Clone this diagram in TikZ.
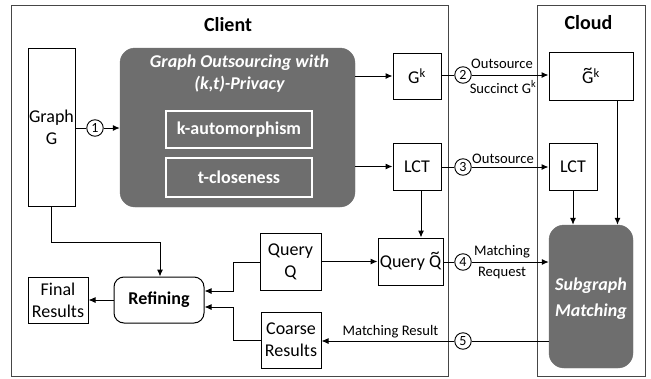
\documentclass[tikz,border=0pt]{standalone}
\usepackage{fontspec}
\setmainfont{Carlito}
\usetikzlibrary{arrows.meta,calc}
\definecolor{boxgray}{RGB}{110,110,110}
\definecolor{framegray}{RGB}{70,70,70}
\newcommand{\tildeon}[1]{\setbox0\hbox{#1}\rlap{\hbox to\wd0{\hfil\raisebox{0.48em}{\char"7E}\hfil}}\box0}
\begin{document}
\begin{tikzpicture}[x=1pt,y=-1pt,
  frame/.style={draw=framegray, line width=0.9pt, inner sep=0pt},
  box/.style={draw, line width=1pt, inner sep=0pt, align=center, fill=white, font=\fontsize{18}{22}\selectfont},
  graybox/.style={fill=boxgray, draw=boxgray, rounded corners=15pt, inner sep=0pt},
  innerbox/.style={draw=white, line width=1.3pt, inner sep=0pt, text=white, font=\fontsize{18}{22}\selectfont\bfseries},
  num/.style={circle, draw, line width=0.9pt, fill=white, minimum size=16.5pt, inner sep=0pt, font=\fontsize{14}{14}\selectfont},
  lbl/.style={inner sep=0pt, align=center, font=\fontsize{14.6}{22}\selectfont},
  title/.style={inner sep=0pt, font=\fontsize{20}{24}\selectfont\bfseries},
  ln/.style={line width=1pt},
  arr/.style={line width=1pt, -{Latex[length=7pt,width=6pt]}}]
\useasboundingbox (0,0) rectangle (651,378);
% frames
\node[frame, minimum width=437, minimum height=371] (client) at (229.5,190.5) {};
\node[frame, minimum width=108, minimum height=371] (cloud) at (591,190.5) {};
\node[title] (tclient) at (228,25) {Client};
\node[title] (tcloud) at (588.5,23) {Cloud};
% client boxes
\node[box, minimum width=47, minimum height=158] (G) at (51.5,127) {Graph\\G};
\node[graybox, minimum width=235, minimum height=159] (gray) at (237.5,127.5) {};
\node[inner sep=0pt, align=center, text=white, font=\fontsize{18}{22}\selectfont\bfseries\itshape] (gtitle) at (239.5,74) {Graph Outsourcing with\\(k,t)-Privacy};
\node[innerbox, minimum width=146, minimum height=37] (ka) at (239,129.5) {k-automorphism};
\node[innerbox, minimum width=146, minimum height=39] (tc) at (239,177.5) {t-closeness};
\node[box, minimum width=48, minimum height=46] (Gk) at (417,76) {G\textsuperscript{k}};
\node[box, minimum width=48, minimum height=47] (LCT) at (417,166.5) {LCT};
\node[box, minimum width=65, minimum height=47] (Qt) at (410.5,261.5) {Query \tildeon{Q}};
\node[box, minimum width=61, minimum height=57] (Q) at (290.5,261.5) {Query\\Q};
\node[box, minimum width=60, minimum height=56] (CR) at (291,340) {Coarse\\Results};
\node[box, rounded corners=10pt, minimum width=90, minimum height=46, font=\fontsize{18}{22}\selectfont\bfseries] (R) at (159,300) {Refining};
\node[box, minimum width=60, minimum height=46] (FR) at (58,300) {Final\\Results};
% cloud boxes
\node[box, minimum width=84, minimum height=48] (Gtk) at (591,76) {\tildeon{G}\textsuperscript{k}};
\node[box, minimum width=48, minimum height=47] (LCTc) at (573,166.5) {LCT};
\node[graybox, minimum width=84, minimum height=143] (SM) at (591,296.5) {};
\node[inner sep=0pt, align=center, text=white, font=\fontsize{18}{26}\selectfont\bfseries\itshape] (smt) at (591,298.5) {Subgraph\\Matching};
% numbers
\node[num] (c1) at (95,128) {1};
\node[num] (c2) at (463,75) {2};
\node[num] (c3) at (463,167) {3};
\node[num] (c4) at (463,262) {4};
\node[num] (c5) at (463,341) {5};
% labels
\node[lbl] (l2a) at (502,64) {Outsource};
\node[lbl] (l2b) at (503,87) {Succinct G\textsuperscript{k}};
\node[lbl] (l3) at (503,159) {Outsource};
\node[lbl] (l4a) at (502,252) {Matching};
\node[lbl] (l4b) at (502,273) {Request};
\node[lbl] (l5) at (390.5,332) {Matching Result};
% connectors
\draw[ln] (G.east |- c1) -- (c1.west);
\draw[arr] (c1.east) -- (gray.west |- c1);
\draw[arr] (gray.east |- Gk.west) -- (Gk.west);
\draw[arr] (gray.east |- LCT.west) -- (LCT.west);
\draw[ln] (Gk.east |- c2) -- (c2.west);
\draw[arr] (c2.east) -- (Gtk.west |- c2);
\draw[ln] (LCT.east |- c3) -- (c3.west);
\draw[arr] (c3.east) -- (LCTc.west |- c3);
\draw[arr] ([xshift=-16pt]Gtk.south east) -- ([xshift=-16pt]Gtk.south east |- SM.north);
\draw[arr] (LCTc.south) -- (LCTc.south |- SM.north);
\draw[arr] ([xshift=4pt]LCT.south) -- ([xshift=4pt]LCT.south |- Qt.north);
\draw[arr] (Q.east |- Qt.west) -- (Qt.west);
\draw[ln] (Qt.east |- c4) -- (c4.west);
\draw[arr] (c4.east) -- (SM.west |- c4);
\draw[ln] (SM.west |- c5) -- (c5.east);
\draw[arr] (c5.west) -- (CR.east |- c5);
\draw[arr] (R.west) -- (FR.east);
\draw[arr] (G.south) -- (G.south |- 0,242) -- (160,242) -- (160,0 |- R.north);
\draw[arr] (Q.west |- 0,262) -- (233,262) -- (233,291) -- (R.east |- 0,291);
\draw[arr] (CR.west |- 0,340) -- (233,340) -- (233,307) -- (R.east |- 0,307);
\end{tikzpicture}
\end{document}
